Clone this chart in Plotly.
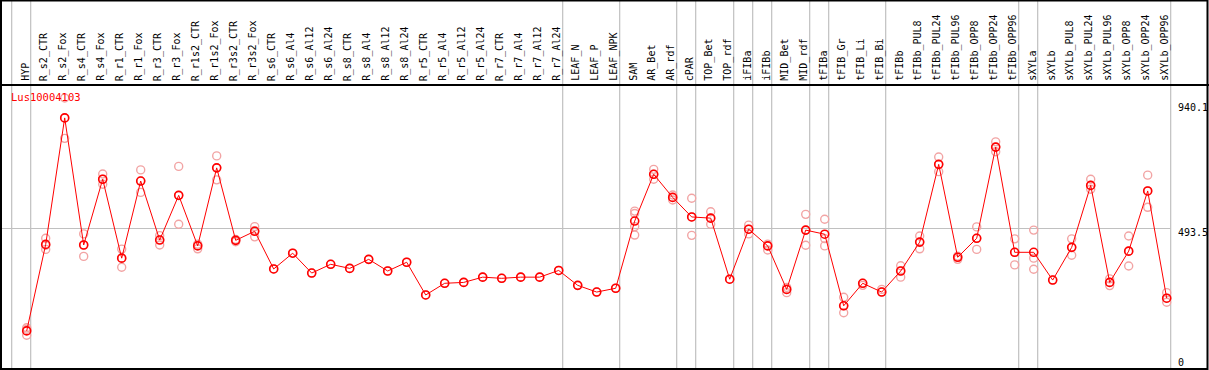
import plotly.graph_objects as go

categories = ["HYP", "R_s2_CTR", "R_s2_Fox", "R_s4_CTR", "R_s4_Fox", "R_r1_CTR", "R_r1_Fox",
              "R_r3_CTR", "R_r3_Fox", "R_r1s2_CTR", "R_r1s2_Fox", "R_r3s2_CTR", "R_r3s2_Fox",
              "R_s6_CTR", "R_s6_Al4", "R_s6_Al12", "R_s6_Al24", "R_s8_CTR", "R_s8_Al4", "R_s8_Al12",
              "R_s8_Al24", "R_r5_CTR", "R_r5_Al4", "R_r5_Al12", "R_r5_Al24", "R_r7_CTR", "R_r7_Al4",
              "R_r7_Al12", "R_r7_Al24", "LEAF_N", "LEAF_P", "LEAF_NPK", "SAM", "AR_Bet", "AR_rdf",
              "cPAR", "TOP_Bet", "TOP_rdf", "iFIBa", "iFIBb", "MID_Bet", "MID_rdf", "tFIBa",
              "tFIB_Gr", "tFIB_Li", "tFIB_Bi", "tFIBb", "tFIBb_PUL8", "tFIBb_PUL24", "tFIBb_PUL96",
              "tFIBb_OPP8", "tFIBb_OPP24", "tFIBb_OPP96", "sXYLa", "sXYLb", "sXYLb_PUL8",
              "sXYLb_PUL24", "sXYLb_PUL96", "sXYLb_OPP8", "sXYLb_OPP24", "sXYLb_OPP96"]

means = [143, 439, 872, 437, 662, 392, 656, 454, 607, 434, 701, 453, 484,
         355, 409, 341, 371, 357, 388, 348, 378, 266, 306, 309, 327, 323, 327, 327, 350,
         299, 276, 289, 519, 679, 600, 533, 529, 320, 491, 434, 285, 488, 474,
         229, 306, 276, 348, 447, 713, 395, 460, 772, 412, 412, 317, 429,
         641, 309, 416, 622, 255]

replicates = [
    [128, 148, 154], [460, 422, 436], [940, 802, 872], [475, 398, 437], [680, 645, 662],
    [423, 361, 392], [694, 617, 656], [469, 437, 455], [706, 508, 607], [440, 424, 436],
    [742, 660, 701], [456, 448, 455], [500, 465, 486], [355], [409], [341], [371], [357],
    [388], [348], [378], [266], [306], [309], [327], [323], [327], [327], [350], [299],
    [276], [289], [553, 545, 500, 471], [696, 662, 679], [608, 591, 600], [597, 470, 533],
    [551, 508, 529], [320], [505, 475, 491], [440, 420, 434], [292, 274, 285], [542, 436, 488],
    [525, 459, 434], [258, 205, 229], [299, 306], [285, 276], [366, 327, 348], [468, 424, 447],
    [738, 688, 713], [399, 388, 395], [499, 422, 460], [790, 756, 772], [458, 369, 412],
    [488, 392, 354], [317], [458, 402, 429], [662, 628, 641], [321, 298, 309], [468, 365, 416],
    [676, 566, 622], [274, 241, 255],
]

separators_after = [-1, 0, 28, 31, 34, 35, 37, 38, 39, 41, 42, 45, 52, 53, 60]
gene = "Lus10004103"
axis_labels = ["940.1", "493.5", "0"]
axis_values = [940.1, 493.5, 0]

W, H = 1209, 370
idx = list(range(len(categories)))
rx, ry = [], []
for i, reps in enumerate(replicates):
    for v in reps:
        rx.append(i)
        ry.append(v)

fig = go.Figure()
fig.add_trace(go.Scatter(x=rx, y=ry, mode="markers",
                         marker=dict(symbol="circle-open", size=8, color="#f2a4a4",
                                     line=dict(width=1.4, color="#f2a4a4")),
                         hoverinfo="skip", showlegend=False))
fig.add_trace(go.Scatter(x=idx, y=means, mode="lines+markers",
                         line=dict(color="#ff0000", width=1),
                         marker=dict(symbol="circle-open", size=8, color="#ff0000",
                                     line=dict(width=1.6, color="#f00000")),
                         showlegend=False))

x0 = -26.7 / 19.0
x1 = x0 + W / 19.0
scale = 0.2922
y_at = lambda py: (372.7 - py) / scale
yr = [y_at(H), y_at(0)]

shapes = []
for s in separators_after:
    shapes.append(dict(type="line", xref="x", yref="paper", x0=s + 0.21, x1=s + 0.21,
                       y0=0, y1=1, line=dict(color="#c0c0c0", width=1.2), layer="below"))
shapes.append(dict(type="line", xref="paper", yref="y", x0=0, x1=1170.5 / W,
                   y0=axis_values[1], y1=axis_values[1],
                   line=dict(color="#c0c0c0", width=1.2), layer="below"))
# frame and header separator
shapes.append(dict(type="rect", xref="paper", yref="paper", x0=1.0 / W, x1=1 - 1.5 / W,
                   y0=1.0 / H, y1=1 - 0.5 / H, line=dict(color="black", width=2)))
shapes.append(dict(type="line", xref="paper", yref="paper", x0=0, x1=1,
                   y0=(H - 85) / H, y1=(H - 85) / H, line=dict(color="black", width=2)))

annotations = []
mono = "DejaVu Sans Mono"
for i, c in enumerate(categories):
    annotations.append(dict(x=i, xref="x", y=(H - 83) / H, yref="paper", text=c,
                            textangle=-90, showarrow=False, xanchor="center", yanchor="bottom",
                            xshift=-2, font=dict(family=mono, size=10, color="black")))
annotations.append(dict(x=9 / W, xref="paper", y=(H - 97) / H, yref="paper", text=gene,
                        showarrow=False, xanchor="left", yanchor="middle",
                        font=dict(family=mono, size=10.5, color="#ff0000")))
label_py = [107.3, 232.7, 362]
for t, py in zip(axis_labels, label_py):
    annotations.append(dict(x=1176 / W, xref="paper", y=(H - py) / H, yref="paper", text=t,
                            showarrow=False, xanchor="left", yanchor="middle",
                            font=dict(family=mono, size=10, color="black")))

fig.update_layout(
    width=W, height=H, margin=dict(l=0, r=0, t=0, b=0, pad=0),
    paper_bgcolor="white", plot_bgcolor="white",
    xaxis=dict(range=[x0, x1], visible=False, showgrid=False, zeroline=False),
    yaxis=dict(range=yr, visible=False, showgrid=False, zeroline=False),
    shapes=shapes, annotations=annotations,
)
fig.write_html("out.html", config={"displayModeBar": False},
               post_script="document.body.style.margin='0px';document.body.style.overflow='hidden';")
